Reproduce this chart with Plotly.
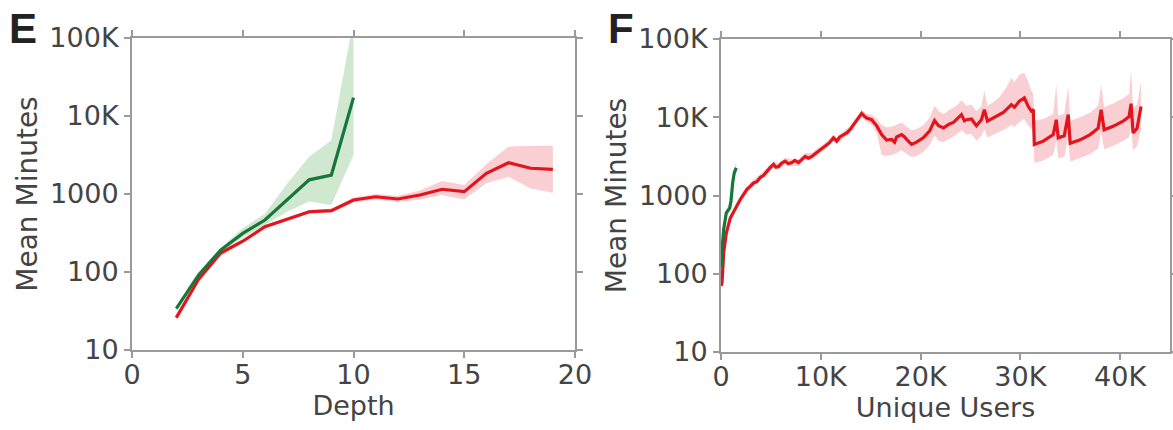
import plotly.graph_objects as go

# ---------------- Panel E data (Depth) ----------------
depth_red = [2, 3, 4, 5, 6, 7, 8, 9, 10, 11, 12, 13, 14, 15, 16, 17, 18, 19]
mean_red_e = [26, 80, 175, 248, 380, 480, 592, 611, 837, 922, 863, 970, 1150, 1070, 1840, 2520, 2140, 2070]
low_red_e = [24, 75, 160, 235, 360, 455, 560, 575, 780, 850, 790, 850, 970, 850, 1370, 1670, 1180, 1040]
up_red_e = [28, 86, 185, 262, 400, 505, 625, 650, 900, 1000, 950, 1110, 1470, 1300, 2400, 4050, 4170, 4170]

depth_green = [2, 3, 4, 5, 6, 7, 8, 9, 10]
mean_green_e = [34, 91, 191, 313, 464, 837, 1520, 1750, 17200]
low_green_e = [32, 86, 180, 275, 400, 590, 800, 725, 3160]
up_green_e = [37, 97, 205, 363, 560, 1350, 3000, 4900, 170000]

# ---------------- Panel F data (Unique Users) ----------------
users_red = [30, 100, 270, 530, 930, 1430, 1930, 2300, 2600, 2900, 3270, 3600, 3930, 4250, 4600, 4900,
             5270, 5500, 5770, 6100, 6430, 6750, 7100, 7400, 7770, 8100, 8430, 8750, 9100, 9400,
             9770, 10100, 10430, 10850, 11270, 11600, 11900, 12270, 12600, 12930, 13300, 13600,
             14100, 14400, 14600, 15100, 15600, 16100, 16600, 17100, 17400, 17600, 18100, 18400,
             18600, 19100, 19600, 20270, 20900, 21400, 21800, 22300, 22900, 23300, 23600, 24100,
             24400, 24600, 25100, 25400, 25600, 26100, 26400, 26700, 27300, 27900, 28300, 28600,
             29100, 29400, 29900, 30400, 30800, 31100, 31300, 31400, 32300, 33300, 33600, 33800,
             34400, 34800, 35000, 36000, 37000, 37800, 38100, 38400, 39300, 40300, 40900, 41100,
             41300, 41700, 42100]
mean_red_f = [70, 77, 186, 330, 515, 690, 890, 1050, 1200, 1300, 1450, 1500, 1700, 1800, 2050, 2250,
              2500, 2300, 2350, 2600, 2750, 2550, 2630, 2800, 2630, 2900, 3160, 3000, 3160, 3400,
              3700, 3900, 4270, 4700, 5450, 4950, 5600, 6000, 6300, 6950, 8000, 9300,
              11200, 10200, 9800, 9300, 7800, 6000, 5100, 5200, 4800, 5600, 6000, 5600,
              5200, 4500, 4800, 5450, 6650, 9100, 7800, 7300, 8200, 8600, 9300, 10800,
              9000, 9300, 9500, 8300, 7800, 9300, 12500, 8900, 9800, 10800, 11500, 12500,
              14500, 13400, 16000, 17700, 13700, 12000, 12500, 4500, 4950, 6000, 9300, 5450,
              5800, 10800, 4650, 5150, 6000, 7250, 12500, 6900, 7650, 8900, 10200, 14900,
              6300, 7250, 13700]

users_band = [30, 100, 270, 530, 930, 1430, 1930, 2600, 3270, 3930, 4600, 5270, 5770, 6430, 7100, 7770,
              8430, 9100, 9770, 10430, 11270, 11600, 12270, 12930, 13600, 14100, 14600, 15100, 15600,
              16100, 16600, 17100, 17600, 18100, 18600, 19100, 19600, 20270, 20900, 21400, 21800,
              22300, 22900, 23600, 24100, 24600, 25100, 25600, 26100, 26400, 26700, 27300, 27900,
              28600, 29100, 29400, 29900, 30400, 30800, 31100, 31300, 31400, 32300, 33300, 33600,
              33800, 34400, 34800, 35000, 36000, 37000, 37800, 38100, 38400, 39300, 40300, 40900,
              41100, 41300, 41700, 42100]
low_red_f = [63, 70, 170, 300, 470, 630, 810, 1090, 1320, 1550, 1860, 2270, 2140, 2500, 2390, 2390,
             2870, 2870, 3360, 3880, 4950, 4500, 5450, 6300, 8450, 10000, 8700, 8000, 6300,
             3300, 3200, 3300, 3500, 3800, 3400, 3100, 3200, 3600, 4400, 5800, 5000,
             4800, 5300, 6000, 6800, 6000, 6100, 5000, 5800, 7000, 5500, 6000, 6500,
             7200, 8000, 7500, 8700, 9500, 7800, 7000, 7200, 2600, 2800, 3300, 5000,
             3000, 3100, 5500, 2700, 3000, 3400, 4000, 6500, 3900, 4300, 5000, 5600,
             7500, 3800, 4300, 7000]
up_red_f = [78, 85, 205, 365, 565, 760, 980, 1320, 1600, 1870, 2260, 2750, 2590, 3030, 2900, 2900,
            3480, 3480, 4070, 4700, 6000, 5450, 6600, 7650, 10200, 12500, 11000, 10800, 9600,
            8000, 7400, 7600, 8000, 8600, 7600, 6800, 7000, 7900, 9800, 14000, 12000,
            11000, 12500, 14000, 16500, 14000, 14500, 12000, 14000, 22000, 14000, 15500, 18000,
            24000, 32000, 28000, 35000, 37000, 28000, 22000, 20000, 9000, 9500, 11000, 26000,
            10500, 11000, 25000, 9000, 10000, 11500, 14000, 26000, 13500, 15000, 17500, 20000,
            40000, 13000, 14500, 28000]

users_green = [50, 100, 270, 530, 870, 1000, 1170, 1330, 1530]
mean_green_f = [120, 200, 370, 600, 690, 850, 1450, 1950, 2250]
low_green_f = [100, 175, 330, 540, 620, 760, 1300, 1750, 2000]
up_green_f = [140, 230, 420, 680, 790, 980, 1700, 2300, 2700]

y_tickvals = [10, 100, 1000, 10000, 100000]
y_ticktext = ["10", "100", "1000", "10K", "100K"]
x_tickvals_e = [0, 5, 10, 15, 20]
x_ticktext_e = ["0", "5", "10", "15", "20"]
x_tickvals_f = [0, 10000, 20000, 30000, 40000]
x_ticktext_f = ["0", "10K", "20K", "30K", "40K"]

RED = "#e3141c"
GREEN = "#16773a"
RED_FILL = "rgba(242,135,145,0.40)"
GREEN_FILL = "rgba(150,205,150,0.45)"

W, H = 1173, 430

fig = go.Figure()


def add_band(x, lo, hi, fill, xa, ya):
    fig.add_trace(go.Scatter(x=x, y=lo, mode="lines", line=dict(width=0, color=fill),
                             hoverinfo="skip", showlegend=False, xaxis=xa, yaxis=ya))
    fig.add_trace(go.Scatter(x=x, y=hi, mode="lines", line=dict(width=0, color=fill),
                             fill="tonexty", fillcolor=fill, hoverinfo="skip",
                             showlegend=False, xaxis=xa, yaxis=ya))


def add_line(x, y, color, xa, ya):
    fig.add_trace(go.Scatter(x=x, y=y, mode="lines", line=dict(width=3.2, color=color),
                             showlegend=False, xaxis=xa, yaxis=ya))


# Panel E
add_band(depth_green, low_green_e, up_green_e, GREEN_FILL, "x", "y")
add_band(depth_red, low_red_e, up_red_e, RED_FILL, "x", "y")
add_line(depth_red, mean_red_e, RED, "x", "y")
add_line(depth_green, mean_green_e, GREEN, "x", "y")

# Panel F
add_band(users_band, low_red_f, up_red_f, RED_FILL, "x2", "y2")
add_band(users_green, low_green_f, up_green_f, GREEN_FILL, "x2", "y2")
add_line(users_red, mean_red_f, RED, "x2", "y2")
add_line(users_green, mean_green_f, GREEN, "x2", "y2")

FONT = "DejaVu Sans"
TXT = "#444444"
AX = "#9a9a9a"


def px_x(v):
    return v / W


def px_y(v):
    return 1 - v / H


common_axis = dict(showgrid=False, zeroline=False, showline=True, linecolor=AX, linewidth=2,
                   mirror="ticks", ticks="outside", ticklen=6, tickwidth=1.5, tickcolor=AX,
                   automargin=False,
                   tickfont=dict(family=FONT, size=27, color=TXT))

fig.update_layout(
    width=W, height=H,
    margin=dict(l=0, r=0, t=0, b=0),
    paper_bgcolor="white", plot_bgcolor="white",
    showlegend=False,
    font=dict(family=FONT, color=TXT),
    xaxis=dict(domain=[px_x(132), px_x(575)], range=[0, 20], tickvals=x_tickvals_e,
               ticktext=x_ticktext_e, anchor="y", ticklabelstandoff=-6,
               title=dict(text="Depth", font=dict(family=FONT, size=27, color=TXT), standoff=2),
               **common_axis),
    yaxis=dict(domain=[px_y(350), px_y(38)], type="log", range=[1, 5], tickvals=y_tickvals,
               ticktext=y_ticktext, anchor="x",
               title=dict(text="Mean Minutes", font=dict(family=FONT, size=28, color=TXT), standoff=4),
               **common_axis),
    xaxis2=dict(domain=[px_x(721), px_x(1170)], range=[0, 45000], tickvals=x_tickvals_f,
                ticktext=x_ticktext_f, anchor="y2", ticklabelstandoff=-6,
                title=dict(text="Unique Users", font=dict(family=FONT, size=27, color=TXT), standoff=2),
                **common_axis),
    yaxis2=dict(domain=[px_y(352), px_y(39)], type="log", range=[1, 5], tickvals=y_tickvals,
                ticktext=y_ticktext, anchor="x2",
                title=dict(text="Mean Minutes", font=dict(family=FONT, size=28, color=TXT), standoff=4),
                **common_axis),
    annotations=[
        dict(text="<b>E</b>", x=px_x(23), y=px_y(28), xref="paper", yref="paper",
             showarrow=False, xanchor="center", yanchor="middle",
             font=dict(family="Liberation Sans Narrow, Liberation Sans", size=42, color="#222222")),
        dict(text="<b>F</b>", x=px_x(621), y=px_y(28), xref="paper", yref="paper",
             showarrow=False, xanchor="center", yanchor="middle",
             font=dict(family="Liberation Sans Narrow, Liberation Sans", size=42, color="#222222")),
    ],
)

fig.write_html("out.html", config={"displayModeBar": False},
               post_script="document.body.style.margin='0px';")
